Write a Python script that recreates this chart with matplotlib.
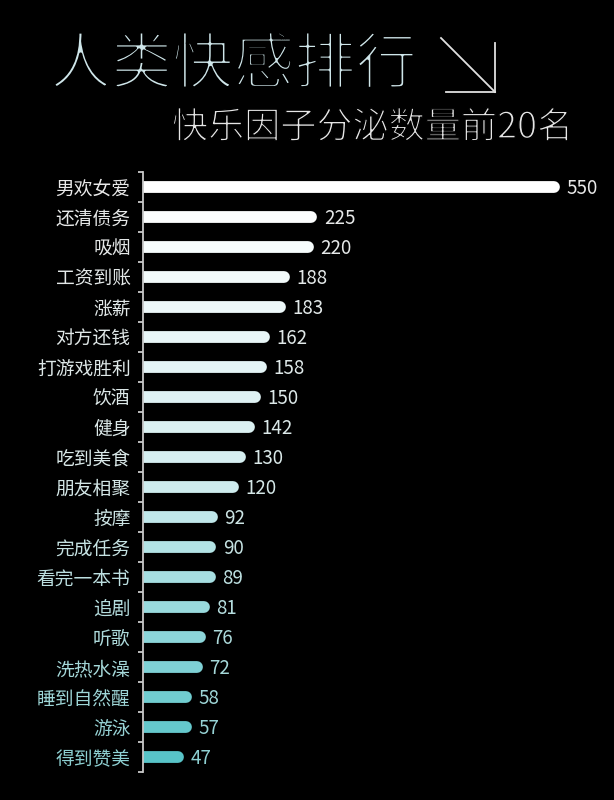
import matplotlib
matplotlib.use("Agg")
import matplotlib.pyplot as plt
import matplotlib.patheffects as pe
from matplotlib.colors import LinearSegmentedColormap
from matplotlib.lines import Line2D
import numpy as np

plt.rcParams['font.family'] = ['Noto Sans CJK SC', 'DejaVu Sans']

labels = ["男欢女爱", "还清债务", "吸烟", "工资到账", "涨薪", "对方还钱", "打游戏胜利",
          "饮酒", "健身", "吃到美食", "朋友相聚", "按摩", "完成任务", "看完一本书",
          "追剧", "听歌", "洗热水澡", "睡到自然醒", "游泳", "得到赞美"]
values = [550, 225, 220, 188, 183, 162, 158, 150, 142, 130,
          120, 92, 90, 89, 81, 76, 72, 58, 57, 47]

title = "人类快感排行"
subtitle = "快乐因子分泌数量前20名"

bar_cmap = LinearSegmentedColormap.from_list("bars", ["#ffffff", "#d4eef0", "#58c4c8"])
lab_cmap = LinearSegmentedColormap.from_list("labs", ["#e8e8e8", "#d8e8e8", "#8ed0d2"])

fig = plt.figure(figsize=(6.14, 8), dpi=100)
fig.patch.set_facecolor("black")
ax = fig.add_axes([0.233, 0.035, 0.767, 0.75])
ax.set_facecolor("black")

n = len(values)
for i, v in enumerate(values):
    t = i / (n - 1)
    ax.plot([0, v], [i, i], lw=8.5, color=bar_cmap(t), solid_capstyle="round")
    ax.annotate(str(v), (v, i), xytext=(9, -1), textcoords="offset points",
                ha="left", va="center", fontsize=13.5, color=lab_cmap(t))

ax.set_xlim(0, 630)
ax.set_ylim(n - 0.5, -0.5)
ax.set_yticks(range(n))
ax.set_yticklabels(labels, fontsize=13.5)
for i, tl in enumerate(ax.get_yticklabels()):
    tl.set_color(lab_cmap(i / (n - 1)))
ax.set_yticks(np.arange(-0.5, n, 1), minor=True)
ax.tick_params(axis="y", which="major", length=0, pad=9)
ax.tick_params(axis="y", which="minor", length=3.5, width=1.3, color="#c8c8c8")
ax.set_xticks([])
for s in ["top", "right", "bottom"]:
    ax.spines[s].set_visible(False)
ax.spines["left"].set_color("#c8c8c8")
ax.spines["left"].set_linewidth(1.3)

# thin the heading glyphs by drawing a black outline over them
fig.text(50 / 614, 1 - 66 / 800, title, fontsize=44,
         color="#cfe6ea", ha="left", va="center",
         path_effects=[pe.Normal(), pe.Stroke(linewidth=2.2, foreground="black")])
fig.text(172 / 614, 1 - 128 / 800, subtitle, fontsize=26,
         color="#e6e6e6", ha="left", va="center",
         path_effects=[pe.Normal(), pe.Stroke(linewidth=1.0, foreground="black")])

# the ↘ sign after the title
arrow_col = "#e0e0e0"
fig.add_artist(Line2D([441 / 614, 495 / 614], [1 - 38 / 800, 1 - 92 / 800], color=arrow_col, lw=1.3))
fig.add_artist(Line2D([495 / 614, 495 / 614], [1 - 43 / 800, 1 - 92 / 800], color=arrow_col, lw=1.3))
fig.add_artist(Line2D([446 / 614, 495 / 614], [1 - 92 / 800, 1 - 92 / 800], color=arrow_col, lw=1.3))

fig.savefig("out.png", dpi=100, facecolor="black")
